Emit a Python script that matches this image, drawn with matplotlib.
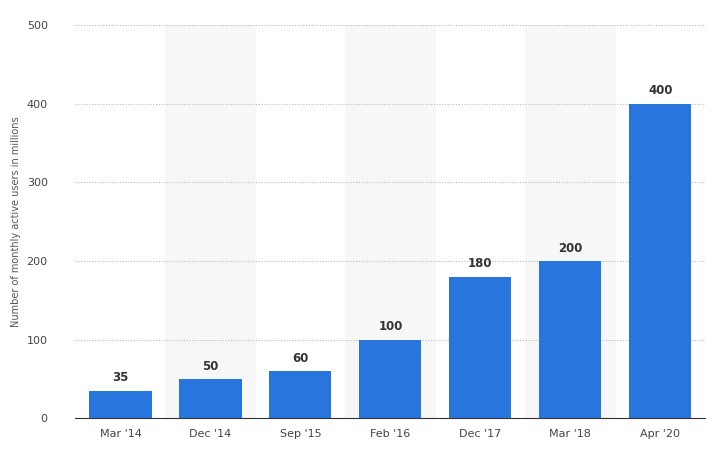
import matplotlib
matplotlib.use("Agg")
import matplotlib.pyplot as plt

categories = ["Mar '14", "Dec '14", "Sep '15", "Feb '16", "Dec '17", "Mar '18", "Apr '20"]
values = [35, 50, 60, 100, 180, 200, 400]

fig = plt.figure(figsize=(7.19, 4.55), dpi=100)
ax = fig.add_axes([0.105, 0.081, 0.876, 0.864])
x = list(range(len(categories)))
for i in x:
    if i % 2 == 1:
        ax.axvspan(i - 0.5, i + 0.5, color="#f7f7f7", zorder=0)
ax.bar(x, values, width=0.69, color="#2876dd", zorder=3)
for i, v in zip(x, values):
    ax.text(i, v + 8, str(v), ha="center", va="bottom", fontsize=8.5, fontweight="bold", color="#333333")
ax.set_xlim(-0.5, 6.5)
ax.set_ylim(0, 500)
ax.set_yticks([0, 100, 200, 300, 400, 500])
ax.set_xticks(x)
ax.set_xticklabels(categories)
ax.tick_params(axis="both", length=0, labelsize=8, colors="#444444")
ax.tick_params(axis="x", pad=8)
ax.tick_params(axis="y", pad=20)
ax.grid(axis="y", linestyle=(0, (1, 1.5)), color="#bbbbbb", linewidth=0.8, zorder=1)
ax.set_axisbelow(True)
for s in ["top", "right", "left"]:
    ax.spines[s].set_visible(False)
ax.spines["bottom"].set_color("#333333")
ax.set_ylabel("Number of monthly active users in millions", fontsize=7, color="#555555")
fig.savefig("out.png", dpi=100)
